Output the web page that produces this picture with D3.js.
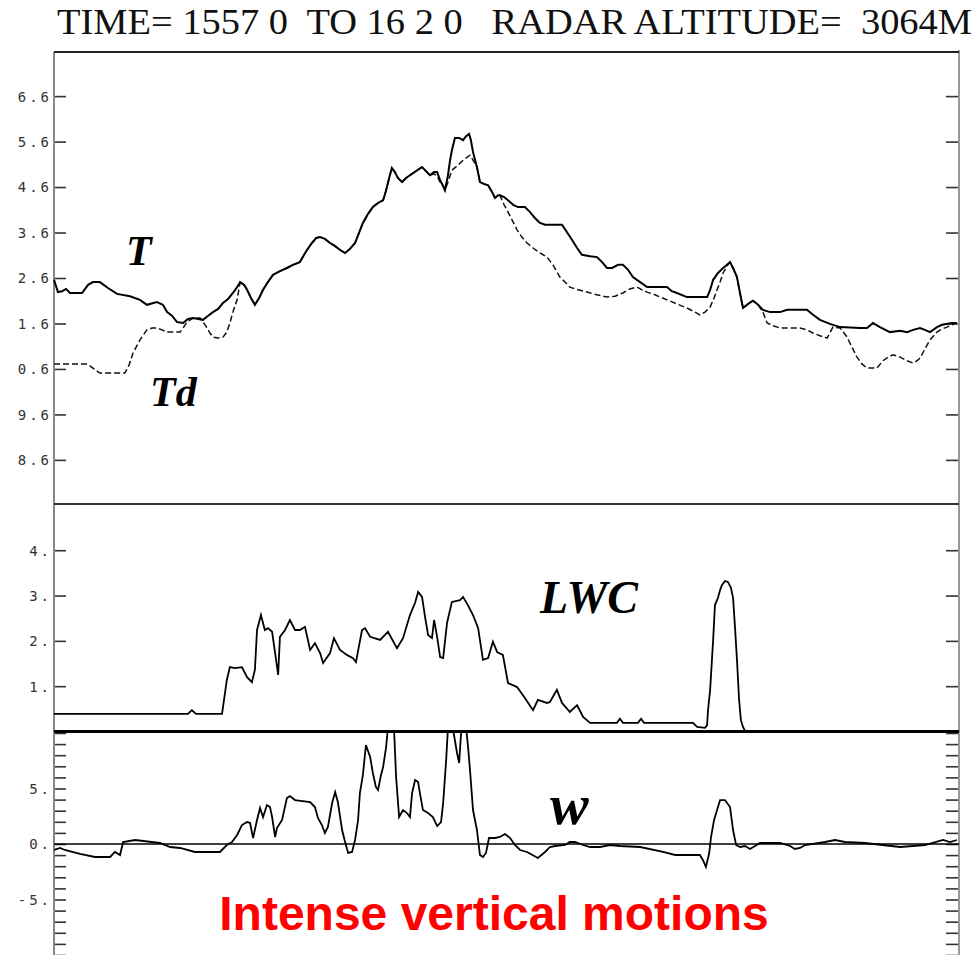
<!DOCTYPE html>
<html><head><meta charset="utf-8">
<script src="https://cdn.jsdelivr.net/npm/d3@7"></script>
<style>body{margin:0;background:#fff}</style>
</head><body>
<svg id="c" width="980" height="955"></svg>
<script>
// ---------- data ----------
const titleText = "TIME= 1557 0  TO 16 2 0   RADAR ALTITUDE=  3064M";
const timeDomain = [0, 300]; // seconds after 15:57:00
const tempTicks = [16.6, 15.6, 14.6, 13.6, 12.6, 11.6, 10.6, 9.6, 8.6];
const tempTickLabels = ["6.6", "5.6", "4.6", "3.6", "2.6", "1.6", "0.6", "9.6", "8.6"];
const lwcTicks = [1, 2, 3, 4];
const lwcTickLabels = ["1.", "2.", "3.", "4."];
const wTicks = [-5, 0, 5];
const wTickLabels = ["-5.", "0.", "5."];
const wMinorTicks = [-10,-9,-8,-7,-6,-5,-4,-3,-2,-1,0,1,2,3,4,5,6,7,8,9,10];

const tempT = [[0,12.56],[1.3,12.29],[2.7,12.31],[4.0,12.36],[5.3,12.27],[9.3,12.27],[11.3,12.45],[12.9,12.51],[15.2,12.51],[17.9,12.38],[20.9,12.25],[25.2,12.20],[28.5,12.12],[30.8,12.01],[34.1,12.07],[36.1,12.01],[37.5,11.85],[39.1,11.77],[40.8,11.63],[42.8,11.61],[44.4,11.70],[46.1,11.72],[49.4,11.68],[51.1,11.77],[52.7,11.85],[54.4,11.92],[56.0,12.05],[57.7,12.14],[59.3,12.27],[60.7,12.40],[61.7,12.51],[63.0,12.45],[64.0,12.34],[65.3,12.16],[66.6,12.01],[68.0,12.16],[69.3,12.34],[70.9,12.51],[72.6,12.67],[74.9,12.75],[77.2,12.82],[79.2,12.89],[81.5,12.95],[82.9,13.11],[83.9,13.22],[85.5,13.37],[86.9,13.48],[88.2,13.50],[89.8,13.46],[91.5,13.37],[93.2,13.30],[94.8,13.22],[96.5,13.15],[98.1,13.24],[99.8,13.37],[101.1,13.59],[102.4,13.81],[104.1,14.01],[105.7,14.16],[107.4,14.25],[109.1,14.31],[110.1,14.53],[111.1,14.80],[112.0,15.02],[113.0,14.93],[114.0,14.80],[115.4,14.71],[116.7,14.80],[118.0,14.86],[120.0,14.95],[122.0,15.04],[123.3,14.95],[124.6,14.86],[126.0,14.93],[127.0,14.93],[128.0,14.75],[129.0,14.62],[129.6,14.53],[130.6,14.86],[131.3,15.19],[131.9,15.41],[132.9,15.68],[134.3,15.68],[135.6,15.63],[136.6,15.72],[137.6,15.77],[138.2,15.63],[138.9,15.37],[139.6,15.19],[140.2,15.04],[141.2,14.71],[142.5,14.67],[143.9,14.64],[145.2,14.49],[146.2,14.36],[147.2,14.42],[147.8,14.42],[149.2,14.38],[150.5,14.31],[152.2,14.21],[153.8,14.16],[156.1,14.16],[157.8,14.05],[159.4,13.92],[161.1,13.81],[162.8,13.77],[168.4,13.77],[170.0,13.61],[171.7,13.44],[173.4,13.26],[175.0,13.11],[177.7,13.08],[180.0,13.06],[181.7,12.95],[183.3,12.82],[185.0,12.82],[187.0,12.89],[188.6,12.89],[190.3,12.78],[191.9,12.62],[194.3,12.51],[196.6,12.40],[203.2,12.40],[204.8,12.31],[206.5,12.27],[209.8,12.18],[216.5,12.18],[217.5,12.34],[218.5,12.56],[220.1,12.71],[221.8,12.82],[223.1,12.89],[224.1,12.95],[225.1,12.82],[226.4,12.62],[227.4,12.27],[228.4,11.94],[230.1,12.03],[231.7,12.10],[233.4,12.01],[235.0,11.90],[237.4,11.85],[240.7,11.85],[243.0,11.90],[249.6,11.90],[251.6,11.79],[253.9,11.68],[257.2,11.59],[260.6,11.52],[267.2,11.50],[269.5,11.50],[271.5,11.61],[273.8,11.52],[277.1,11.41],[280.5,11.44],[282.8,11.41],[284.8,11.46],[287.1,11.50],[288.7,11.46],[290.4,11.41],[292.7,11.52],[294.4,11.57],[297.7,11.61],[299.3,11.61]];

const tempTd = [[0,10.71],[10.9,10.71],[12.9,10.62],[15.2,10.51],[23.5,10.51],[24.9,10.69],[26.2,10.95],[28.5,11.24],[30.8,11.46],[32.5,11.50],[34.1,11.50],[35.8,11.46],[37.5,11.41],[41.8,11.41],[42.8,11.50],[44.1,11.63],[46.1,11.72],[48.4,11.72],[50.1,11.57],[51.7,11.39],[52.7,11.30],[54.4,11.28],[56.0,11.30],[57.3,11.41],[58.3,11.61],[59.3,11.85],[60.7,12.12],[61.7,12.51],[63.0,12.45],[64.0,12.34],[65.3,12.16],[66.6,12.01],[68.0,12.16],[69.3,12.34],[70.9,12.51],[72.6,12.67],[74.9,12.75],[77.2,12.82],[79.2,12.89],[81.5,12.95],[82.9,13.11],[83.9,13.22],[85.5,13.37],[86.9,13.48],[88.2,13.50],[89.8,13.46],[91.5,13.37],[93.2,13.30],[94.8,13.22],[96.5,13.15],[98.1,13.24],[99.8,13.37],[101.1,13.59],[102.4,13.81],[104.1,14.01],[105.7,14.16],[107.4,14.25],[109.1,14.31],[110.1,14.53],[111.1,14.80],[112.0,15.02],[113.0,14.93],[114.0,14.80],[115.4,14.71],[116.7,14.80],[118.0,14.86],[120.0,14.95],[122.0,15.04],[123.3,14.95],[124.6,14.86],[126.0,14.89],[127.0,14.84],[128.0,14.71],[129.0,14.62],[129.6,14.53],[130.6,14.71],[131.9,14.97],[133.9,15.08],[135.6,15.19],[137.9,15.30],[138.9,15.19],[140.2,15.04],[141.2,14.71],[142.5,14.67],[143.9,14.64],[145.2,14.49],[146.2,14.36],[147.2,14.42],[147.8,14.42],[149.2,14.21],[150.5,14.05],[152.2,13.83],[153.5,13.66],[155.1,13.50],[156.8,13.37],[158.8,13.26],[161.1,13.15],[163.4,13.06],[165.4,12.89],[167.7,12.62],[169.4,12.51],[171.0,12.40],[173.7,12.34],[176.7,12.29],[180.0,12.23],[183.3,12.18],[186.0,12.20],[188.6,12.27],[190.9,12.36],[193.3,12.40],[194.9,12.34],[196.6,12.29],[199.2,12.23],[203.2,12.12],[206.5,12.03],[209.8,11.94],[212.5,11.85],[214.1,11.79],[215.8,11.85],[217.5,11.96],[218.8,12.16],[219.8,12.34],[220.8,12.51],[221.8,12.71],[223.1,12.86],[224.1,12.95],[225.1,12.82],[226.4,12.62],[227.4,12.27],[228.4,11.94],[230.1,12.03],[231.7,12.10],[233.4,12.01],[235.0,11.85],[236.4,11.61],[238.3,11.55],[240.7,11.50],[247.3,11.50],[249.6,11.46],[251.6,11.39],[253.9,11.33],[256.3,11.28],[258.2,11.52],[260.6,11.50],[262.9,11.30],[264.5,11.08],[266.2,10.86],[267.8,10.71],[269.5,10.62],[272.8,10.62],[274.8,10.78],[276.5,10.86],[278.1,10.91],[280.5,10.86],[282.8,10.78],[284.8,10.73],[286.1,10.78],[287.1,10.84],[288.7,11.04],[290.4,11.24],[292.7,11.41],[294.4,11.48],[296.0,11.52],[297.7,11.57],[299.3,11.61]];

const lwc = [[0,0.39],[44.4,0.39],[45.7,0.47],[47.1,0.39],[55.7,0.39],[57.3,1.14],[58.3,1.42],[60.0,1.40],[62.3,1.42],[64.0,1.20],[65.6,1.09],[66.6,1.36],[67.3,2.24],[68.6,2.57],[69.9,2.24],[70.9,2.28],[72.3,2.20],[73.3,1.73],[74.3,1.25],[74.9,2.09],[76.6,2.24],[78.2,2.46],[79.9,2.24],[81.5,2.24],[83.2,2.31],[84.9,1.80],[86.5,1.95],[88.2,1.73],[89.2,1.51],[91.5,1.73],[92.8,2.06],[94.8,1.80],[97.1,1.69],[99.1,1.62],[100.1,1.53],[102.1,2.24],[103.1,2.28],[104.8,2.09],[108.1,2.02],[110.7,2.20],[113.7,1.84],[115.7,2.06],[118.0,2.57],[119.7,2.84],[120.7,3.08],[122.0,2.97],[123.0,2.53],[124.0,2.13],[125.3,2.06],[126.0,2.46],[127.0,2.09],[128.0,1.64],[129.0,1.62],[130.3,2.40],[131.9,2.86],[134.6,2.90],[135.6,2.97],[137.2,2.79],[138.9,2.57],[140.6,2.28],[142.2,1.58],[143.9,1.62],[145.5,1.98],[146.9,1.75],[148.8,1.69],[150.5,1.07],[153.5,0.98],[156.1,0.74],[158.8,0.47],[160.4,0.70],[163.4,0.63],[164.4,0.65],[166.7,0.92],[168.4,0.63],[171.0,0.43],[173.4,0.58],[175.4,0.32],[177.7,0.19],[186.6,0.19],[187.6,0.28],[188.6,0.19],[193.6,0.19],[194.6,0.28],[195.6,0.19],[211.8,0.19],[213.2,0.10],[215.8,0.08],[216.5,0.14],[216.8,0.47],[217.5,0.92],[218.1,1.58],[218.5,2.02],[219.1,2.79],[220.1,2.95],[220.8,3.12],[221.4,3.23],[222.4,3.32],[223.4,3.30],[224.4,3.17],[225.1,2.95],[225.7,2.35],[226.4,1.58],[227.1,0.70],[227.7,0.25],[228.4,0.10],[229.1,0.01],[299.3,0.01]];

const wind = [[0,-0.54],[2.0,-0.36],[3.6,-0.54],[8.6,-0.90],[13.6,-1.17],[18.6,-1.17],[20.2,-0.72],[21.9,-0.99],[22.9,0.18],[26.9,0.36],[35.1,0.09],[38.5,-0.27],[41.8,-0.36],[46.7,-0.72],[55.0,-0.72],[57.3,-0.09],[59.0,0.18],[60.7,0.81],[62.3,1.71],[64.0,1.98],[65.0,1.89],[66.0,0.54],[67.3,2.16],[68.3,3.24],[69.3,2.43],[70.6,3.51],[71.6,3.33],[72.3,2.43],[73.3,0.63],[73.9,1.44],[75.6,2.16],[77.2,4.14],[78.2,4.32],[79.9,3.96],[84.9,3.78],[86.5,3.33],[87.5,2.34],[88.8,1.71],[89.8,0.99],[90.8,1.53],[92.2,3.69],[93.2,4.68],[94.1,3.78],[95.5,1.26],[96.5,0.18],[97.5,-0.81],[98.8,-0.72],[99.8,0.36],[100.8,2.16],[101.4,4.59],[102.4,6.22],[103.4,8.92],[104.8,7.84],[105.7,6.40],[106.7,5.14],[107.4,4.86],[108.4,6.22],[109.1,6.94],[110.1,8.74],[110.7,10.5],[111.7,11.0],[112.7,10.5],[113.4,6.04],[114.4,2.43],[115.7,3.06],[117.0,2.79],[118.0,2.43],[118.7,4.59],[119.7,5.77],[120.7,5.59],[121.3,4.59],[122.3,3.06],[124.0,2.79],[125.6,2.43],[127.0,1.62],[128.3,1.98],[129.0,3.69],[130.0,7.57],[130.6,10.5],[131.6,11.0],[132.6,9.82],[133.6,8.20],[134.3,7.30],[134.9,9.82],[135.6,11.0],[136.6,10.5],[137.2,8.92],[137.9,6.67],[138.9,3.06],[140.2,1.26],[141.2,-0.99],[142.2,-1.17],[143.2,-0.81],[144.2,0.54],[146.2,0.54],[147.8,0.63],[149.5,0.90],[151.2,0.54],[152.8,-0.09],[154.5,-0.54],[156.8,-0.72],[160.4,-1.26],[162.8,-0.72],[164.4,-0.27],[166.1,-0.18],[169.4,-0.09],[171.0,0.18],[172.7,0.18],[175.4,-0.09],[177.7,-0.27],[181.0,-0.27],[184.3,-0.09],[187.6,-0.18],[194.3,-0.27],[201.9,-0.72],[205.9,-0.99],[214.1,-0.99],[215.1,-1.44],[216.1,-2.07],[217.2,-0.81],[217.8,0.63],[218.8,2.16],[219.8,3.06],[220.8,3.96],[222.4,3.96],[224.1,3.33],[225.1,1.26],[226.1,-0.09],[227.4,-0.27],[229.1,-0.18],[230.7,-0.45],[232.4,-0.18],[234.0,0.09],[240.7,0.09],[244.0,-0.18],[245.6,-0.45],[247.3,-0.36],[249.0,-0.09],[255.6,0.18],[258.9,0.36],[262.2,0.18],[268.8,0.09],[280.5,-0.27],[288.7,-0.09],[294.7,0.36],[297.0,0.18],[299.3,0.36]];

// ---------- layout ----------
const X0 = 54, X1 = 959;
const P1 = [52, 504], P2 = [504, 731.5], P3 = [731, 955];

const svg = d3.select("#c");
const x = d3.scaleLinear().domain(timeDomain).range([X0, X1]);
const yT = d3.scaleLinear().domain([7.63, 17.57]).range([P1[1], P1[0]]);
const yL = d3.scaleLinear().domain([0, 5.02]).range([P2[1], P2[0]]);
const yW = d3.scaleLinear().domain([-10, 10.18]).range([P3[1], P3[0]]);

svg.append("defs").append("clipPath").attr("id", "clipW")
  .append("rect").attr("x", X0).attr("y", P3[0]).attr("width", X1 - X0).attr("height", P3[1] - P3[0]);

// title
svg.append("text").attr("x", 57).attr("y", 34)
  .attr("textLength", 915).attr("lengthAdjust", "spacingAndGlyphs")
  .style("white-space", "pre")
  .style("font-family", "'Liberation Serif', 'DejaVu Serif', serif")
  .style("font-size", "35px").attr("fill", "#111")
  .text(titleText);

const tickFont = sel => sel
  .style("font-family", "'DejaVu Sans Mono', monospace")
  .style("font-size", "14px").style("letter-spacing", "3px")
  .attr("fill", "#333");

// axes helper
function leftAxis(scale, ticks, labels) {
  const g = svg.append("g").attr("transform", `translate(${X0},0)`)
    .call(d3.axisLeft(scale).tickValues(ticks).tickSize(-12)
      .tickFormat((d, i) => labels ? labels[i] : ""));
  g.select(".domain").remove();
  g.selectAll(".tick line").attr("stroke", "#333").attr("stroke-width", 1.6);
  g.selectAll(".tick text").attr("x", -2).attr("dy", "0.35em")
    .attr("text-anchor", "end").call(tickFont);
  return g;
}
function rightAxis(scale, ticks) {
  const g = svg.append("g").attr("transform", `translate(${X1},0)`)
    .call(d3.axisRight(scale).tickValues(ticks).tickSize(-13).tickFormat(""));
  g.select(".domain").remove();
  g.selectAll(".tick line").attr("stroke", "#333").attr("stroke-width", 1.6);
  return g;
}

leftAxis(yT, tempTicks, tempTickLabels);
rightAxis(yT, tempTicks);
leftAxis(yL, lwcTicks, lwcTickLabels);
rightAxis(yL, lwcTicks);
leftAxis(yW, wMinorTicks, null);
rightAxis(yW, wMinorTicks);
// labeled w ticks
const gw = svg.append("g").attr("transform", `translate(${X0},0)`)
  .call(d3.axisLeft(yW).tickValues(wTicks).tickSize(0).tickFormat((d, i) => wTickLabels[i]));
gw.select(".domain").remove();
gw.selectAll(".tick text").attr("x", -2).attr("dy", "0.35em").attr("text-anchor", "end").call(tickFont);

// frame lines
svg.append("line").attr("x1", X0).attr("x2", X0).attr("y1", P1[0]).attr("y2", 955)
  .attr("stroke", "#888").attr("stroke-width", 2);
svg.append("line").attr("x1", X1).attr("x2", X1).attr("y1", P1[0] - 2).attr("y2", 955)
  .attr("stroke", "#999").attr("stroke-width", 2);
svg.append("line").attr("x1", X0).attr("x2", X1).attr("y1", P1[0]).attr("y2", P1[0])
  .attr("stroke", "#222").attr("stroke-width", 2.2);
svg.append("line").attr("x1", X0).attr("x2", X1).attr("y1", P1[1]).attr("y2", P1[1])
  .attr("stroke", "#333").attr("stroke-width", 2.2);
svg.append("line").attr("x1", X0).attr("x2", X1).attr("y1", yL(0)).attr("y2", yL(0))
  .attr("stroke", "#000").attr("stroke-width", 3.2);
svg.append("line").attr("x1", X0).attr("x2", X1).attr("y1", yW(0)).attr("y2", yW(0))
  .attr("stroke", "#000").attr("stroke-width", 1.6);

// series
const lineT = d3.line().x(d => x(d[0])).y(d => yT(d[1]));
const lineL = d3.line().x(d => x(d[0])).y(d => yL(d[1]));
const lineW = d3.line().x(d => x(d[0])).y(d => yW(d[1]));

svg.append("path").datum(tempTd).attr("d", lineT).attr("fill", "none")
  .attr("stroke", "#111").attr("stroke-width", 1.5).attr("stroke-dasharray", "6,3");
svg.append("path").datum(tempT).attr("d", lineT).attr("fill", "none")
  .attr("stroke", "#000").attr("stroke-width", 2);
svg.append("path").datum(lwc).attr("d", lineL).attr("fill", "none")
  .attr("stroke", "#000").attr("stroke-width", 1.8);
svg.append("path").datum(wind).attr("d", lineW).attr("fill", "none")
  .attr("clip-path", "url(#clipW)")
  .attr("stroke", "#000").attr("stroke-width", 1.8);

// series labels
const lab = (t, px, py, size) => svg.append("text").attr("x", px).attr("y", py)
  .style("font-family", "'Liberation Serif', 'DejaVu Serif', serif")
  .style("font-weight", "bold").style("font-style", "italic")
  .style("font-size", size + "px").attr("fill", "#000").text(t);
lab("T", 126, 265, 42);
lab("Td", 150, 406, 42);
lab("LWC", 540, 613, 46);
lab("w", 550, 824, 58);

svg.append("text").attr("x", 494).attr("y", 930).attr("text-anchor", "middle")
  .style("font-family", "'Liberation Sans', Arial, sans-serif")
  .style("font-weight", "bold").style("font-size", "48px")
  .attr("fill", "#ff0000").text("Intense vertical motions");
</script>
</body></html>
